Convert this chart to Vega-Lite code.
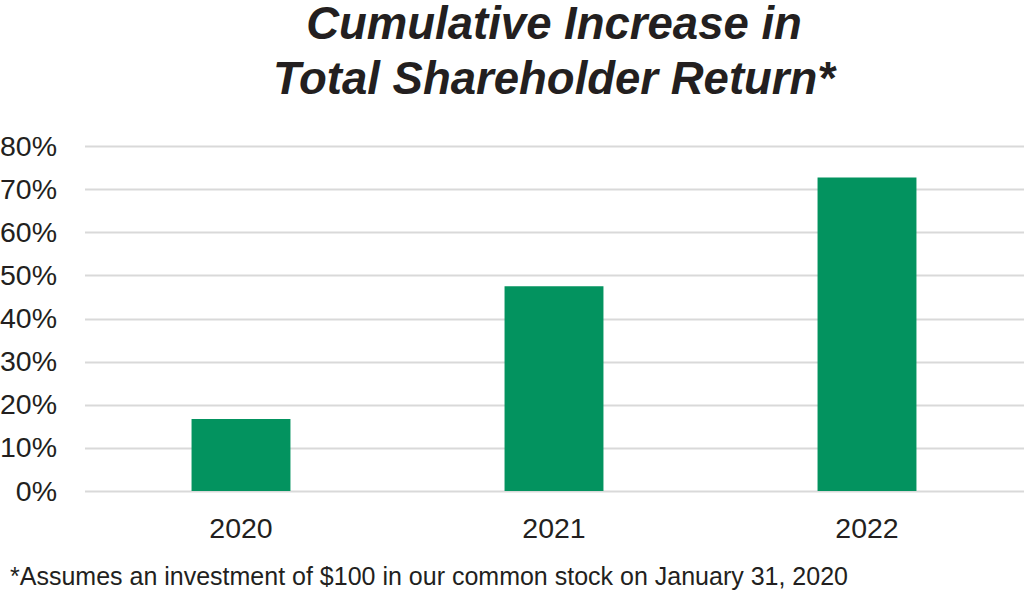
{
  "$schema": "https://vega.github.io/schema/vega-lite/v6.json",
  "autosize": {"type": "none"},
  "width": 939,
  "height": 345,
  "padding": {"left": 84.5, "top": 146, "right": 0, "bottom": 104},
  "background": "white",
  "title": {
    "text": ["Cumulative Increase in", "Total Shareholder Return*"],
    "font": "Liberation Sans",
    "fontSize": 45.5,
    "fontWeight": "bold",
    "fontStyle": "italic",
    "color": "#231f20",
    "lineHeight": 55,
    "anchor": "middle",
    "offset": 29
  },
  "data": {
    "values": [
      {"year": "2020", "value": 0.167},
      {"year": "2021", "value": 0.475},
      {"year": "2022", "value": 0.727}
    ]
  },
  "mark": {"type": "bar", "color": "#03935f"},
  "encoding": {
    "x": {
      "field": "year",
      "type": "nominal",
      "scale": {"paddingInner": 0.684, "paddingOuter": 0.342},
      "axis": {
        "title": "*Assumes an investment of $100 in our common stock on January 31, 2020",
        "titleFont": "Liberation Sans",
        "titleFontSize": 25,
        "titleFontWeight": "normal",
        "titleColor": "#231f20",
        "titleAnchor": "start",
        "titleAlign": "left",
        "titleX": -75,
        "titleY": 93,
        "titleBaseline": "alphabetic",
        "labelAngle": 0,
        "labelFont": "Liberation Sans",
        "labelFontSize": 28.5,
        "labelColor": "#231f20",
        "labelPadding": 23,
        "ticks": false,
        "domain": false
      }
    },
    "y": {
      "field": "value",
      "type": "quantitative",
      "scale": {"domain": [0, 0.8], "nice": false},
      "axis": {
        "format": ".0%",
        "values": [0, 0.1, 0.2, 0.3, 0.4, 0.5, 0.6, 0.7, 0.8],
        "title": null,
        "labelFont": "Liberation Sans",
        "labelFontSize": 28.5,
        "labelColor": "#231f20",
        "labelPadding": 28,
        "ticks": false,
        "domain": false,
        "grid": true,
        "gridColor": "#d9d9d9",
        "gridWidth": 2
      }
    }
  },
  "config": {"view": {"stroke": null}}
}
